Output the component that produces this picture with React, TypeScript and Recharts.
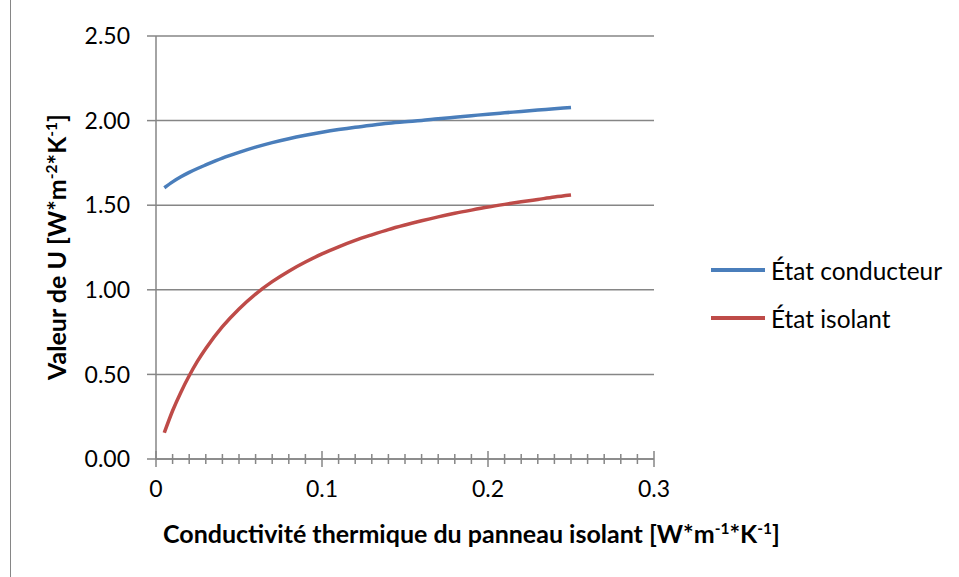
import { LineChart, Line, XAxis, YAxis, CartesianGrid } from "recharts";

// conductivité thermique du panneau isolant [W*m-1*K-1]
const lambdas = [
  0.005, 0.01, 0.015, 0.02, 0.025, 0.03, 0.04, 0.05, 0.06, 0.07, 0.08, 0.09, 0.1, 0.11,
  0.12, 0.13, 0.14, 0.15, 0.16, 0.17, 0.18, 0.19, 0.2, 0.21, 0.22, 0.23, 0.24, 0.25,
];

// valeur de U [W*m-2*K-1]
const etatConducteur = [
  1.603, 1.638, 1.668, 1.694, 1.717, 1.738, 1.778, 1.812, 1.843, 1.87, 1.893, 1.913, 1.931,
  1.947, 1.961, 1.973, 1.984, 1.993, 2.001, 2.011, 2.02, 2.029, 2.038, 2.046, 2.054, 2.062,
  2.07, 2.078,
];
const etatIsolant = [
  0.155, 0.285, 0.395, 0.492, 0.578, 0.653, 0.782, 0.887, 0.975, 1.048, 1.11, 1.164, 1.212,
  1.254, 1.292, 1.325, 1.356, 1.383, 1.408, 1.431, 1.452, 1.471, 1.489, 1.505, 1.52, 1.534,
  1.548, 1.56,
];

const yTicks = [0, 0.5, 1, 1.5, 2, 2.5];
const xTicks = [
  0, 0.01, 0.02, 0.03, 0.04, 0.05, 0.06, 0.07, 0.08, 0.09, 0.1, 0.11, 0.12, 0.13, 0.14, 0.15,
  0.16, 0.17, 0.18, 0.19, 0.2, 0.21, 0.22, 0.23, 0.24, 0.25, 0.26, 0.27, 0.28, 0.29, 0.3,
];
const xMajorLabels: Record<string, string> = { "0": "0", "0.1": "0.1", "0.2": "0.2", "0.3": "0.3" };

const data = lambdas.map((x, i) => ({ x, conducteur: etatConducteur[i], isolant: etatIsolant[i] }));

const FONT = "Lato, 'Open Sans', sans-serif";
const GRAY = "#868686";
const BLUE = "#4a7ebb";
const RED = "#be4b48";

function XTick(props: any) {
  const { x, y, payload } = props;
  const label = xMajorLabels[String(payload.value)];
  const half = label ? 8 : 5;
  return (
    <g>
      <line x1={x} x2={x} y1={y - half} y2={y + half} stroke={GRAY} strokeWidth={1.5} />
      {label && (
        <text x={x} y={y + 38} textAnchor="middle" fill="#000" fontSize={23} fontFamily={FONT}>
          {label}
        </text>
      )}
    </g>
  );
}

const sup = { fontSize: "0.62em", verticalAlign: "super", lineHeight: 0 } as const;

export default function App() {
  return (
    <div
      style={{
        position: "absolute",
        left: 0,
        top: 0,
        width: 959,
        height: 577,
        background: "#fff",
        fontFamily: FONT,
        overflow: "hidden",
      }}
    >
      <div style={{ position: "absolute", left: 10, top: 0, width: 0, height: 577, borderLeft: `1.5px solid ${GRAY}` }} />

      <LineChart width={959} height={577} data={data} margin={{ top: 36, right: 305, bottom: 78, left: 86 }}>
        <CartesianGrid vertical={false} stroke={GRAY} strokeWidth={1.5} />
        <XAxis
          dataKey="x"
          type="number"
          domain={[0, 0.3]}
          ticks={xTicks}
          interval={0}
          height={40}
          axisLine={{ stroke: GRAY, strokeWidth: 1.5 }}
          tickLine={false}
          tickSize={0}
          tickMargin={0}
          tick={<XTick />}
        />
        <YAxis
          type="number"
          domain={[0, 2.5]}
          ticks={yTicks}
          interval={0}
          width={70}
          axisLine={{ stroke: GRAY, strokeWidth: 1.5 }}
          tickLine={{ stroke: GRAY, strokeWidth: 1.5 }}
          tickSize={9}
          tickMargin={17}
          tickFormatter={(v: number) => v.toFixed(2)}
          tick={{ fill: "#000", fontSize: 23, fontFamily: FONT }}
        />
        <Line
          type="monotone"
          dataKey="conducteur"
          name="État conducteur"
          stroke={BLUE}
          strokeWidth={3.5}
          dot={false}
          isAnimationActive={false}
        />
        <Line
          type="monotone"
          dataKey="isolant"
          name="État isolant"
          stroke={RED}
          strokeWidth={3.5}
          dot={false}
          isAnimationActive={false}
        />
      </LineChart>

      {/* y axis title */}
      <div
        style={{
          position: "absolute",
          left: 56,
          top: 247,
          transform: "translate(-50%, -50%) rotate(-90deg)",
          whiteSpace: "nowrap",
          fontWeight: 700,
          fontSize: 25,
          color: "#000",
        }}
      >
        Valeur de U [W*m<span style={sup}>-2</span>*K<span style={sup}>-1</span>]
      </div>

      {/* x axis title */}
      <div
        style={{
          position: "absolute",
          left: 163,
          top: 518,
          whiteSpace: "nowrap",
          fontWeight: 700,
          fontSize: 25,
          color: "#000",
        }}
      >
        Conductivité thermique du panneau isolant [W*m<span style={sup}>-1</span>*K<span style={sup}>-1</span>]
      </div>

      {/* legend */}
      {[
        { name: "État conducteur", color: BLUE, y: 270 },
        { name: "État isolant", color: RED, y: 318 },
      ].map((s) => (
        <div
          key={s.name}
          style={{ position: "absolute", left: 711, top: s.y - 16, height: 32, display: "flex", alignItems: "center" }}
        >
          <div style={{ width: 54, height: 3.5, background: s.color, marginRight: 6 }} />
          <span style={{ fontSize: 24.4, color: "#000", whiteSpace: "nowrap" }}>{s.name}</span>
        </div>
      ))}
    </div>
  );
}
